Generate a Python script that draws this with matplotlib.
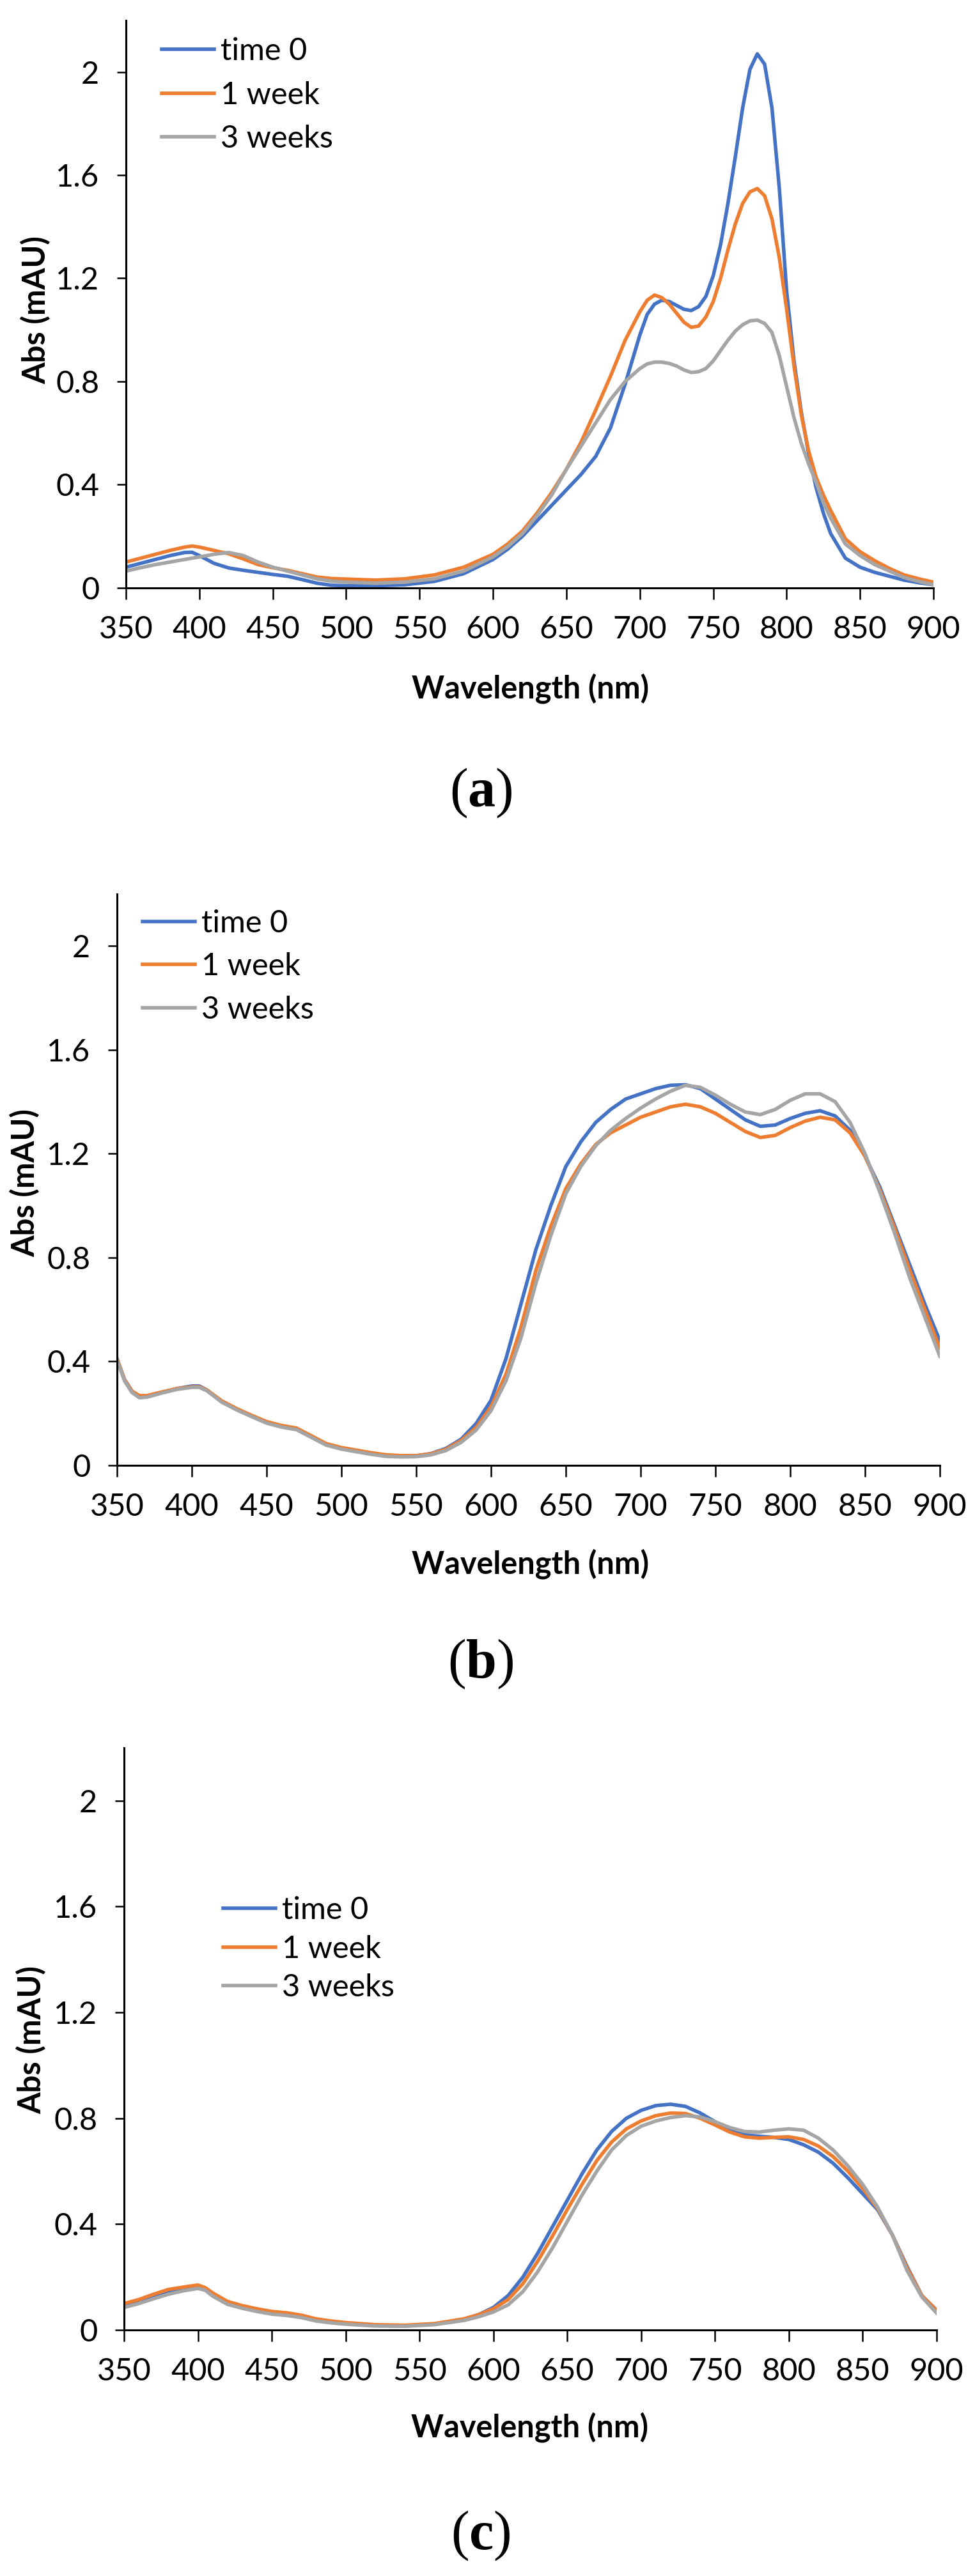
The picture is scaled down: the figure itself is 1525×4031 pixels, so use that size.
import matplotlib
matplotlib.use("Agg")
import matplotlib.pyplot as plt

plt.rcParams['font.family'] = ['Liberation Sans Narrow', 'Lato', 'DejaVu Sans']
plt.rcParams['mathtext.fontset'] = 'custom'
plt.rcParams['mathtext.rm'] = 'Liberation Serif'
plt.rcParams['mathtext.bf'] = 'Liberation Serif:bold'

labels = ['time 0', '1 week', '3 weeks']
colors = ['#4472C4', '#ED7D31', '#A5A5A5']

# panel (a)
wl_a = [350, 360, 370, 380, 390, 395, 400, 410, 420, 430, 440, 450, 460, 470, 480, 490, 500,
        520, 540, 560, 580, 600, 610, 620, 630, 640, 650, 660, 670, 680, 690, 700, 705, 710,
        715, 720, 725, 730, 735, 740, 745, 750, 755, 760, 765, 770, 775, 780, 785, 790, 795,
        800, 805, 810, 815, 820, 825, 830, 840, 850, 860, 870, 880, 890, 900]
a_t0 = [0.08, 0.095, 0.11, 0.125, 0.137, 0.138, 0.125, 0.095, 0.077, 0.068, 0.06, 0.052, 0.045,
        0.032, 0.018, 0.01, 0.008, 0.008, 0.012, 0.025, 0.055, 0.11, 0.15, 0.2, 0.26, 0.32, 0.38,
        0.44, 0.51, 0.62, 0.79, 0.98, 1.06, 1.1, 1.115, 1.11, 1.095, 1.08, 1.075, 1.09, 1.13, 1.21,
        1.33, 1.49, 1.67, 1.86, 2.01, 2.07, 2.03, 1.86, 1.55, 1.15, 0.88, 0.68, 0.52, 0.39, 0.29,
        0.21, 0.115, 0.08, 0.06, 0.045, 0.03, 0.02, 0.012]
a_w1 = [0.1, 0.115, 0.13, 0.145, 0.158, 0.162, 0.158, 0.145, 0.132, 0.112, 0.09, 0.078, 0.068,
        0.055, 0.042, 0.036, 0.034, 0.03, 0.035, 0.05, 0.08, 0.13, 0.17, 0.22, 0.29, 0.37, 0.46,
        0.565, 0.69, 0.82, 0.96, 1.07, 1.115, 1.135, 1.125, 1.1, 1.065, 1.03, 1.01, 1.015, 1.05,
        1.11, 1.2, 1.31, 1.41, 1.49, 1.535, 1.548, 1.52, 1.43, 1.28, 1.08, 0.86, 0.67, 0.53,
        0.43, 0.36, 0.3, 0.19, 0.14, 0.105, 0.075, 0.05, 0.035, 0.022]
a_w3 = [0.065, 0.078, 0.09, 0.1, 0.11, 0.115, 0.12, 0.13, 0.137, 0.125, 0.1, 0.08, 0.065, 0.05,
        0.035, 0.026, 0.022, 0.018, 0.022, 0.035, 0.065, 0.12, 0.16, 0.21, 0.28, 0.36, 0.46, 0.55,
        0.64, 0.73, 0.8, 0.85, 0.868, 0.875, 0.875, 0.87, 0.86, 0.845, 0.835, 0.838, 0.85, 0.88,
        0.92, 0.96, 0.995, 1.02, 1.035, 1.038, 1.025, 0.99, 0.9, 0.78, 0.66, 0.56, 0.48, 0.41,
        0.33, 0.27, 0.17, 0.125, 0.09, 0.065, 0.04, 0.025, 0.012]

# panel (b)
wl_b = [350, 355, 360, 365, 370, 380, 390, 400, 405, 410, 420, 430, 440, 450, 460, 470, 480, 490,
        500, 510, 520, 530, 540, 550, 560, 570, 580, 590, 600, 610, 620, 630, 640, 650, 660, 670,
        680, 690, 700, 710, 720, 730, 740, 750, 760, 770, 780, 790, 800, 810, 820, 830, 840, 850,
        860, 870, 880, 890, 900]
b_t0 = [0.41, 0.33, 0.285, 0.265, 0.265, 0.28, 0.295, 0.305, 0.305, 0.29, 0.245, 0.215, 0.19,
        0.165, 0.15, 0.14, 0.11, 0.08, 0.065, 0.055, 0.045, 0.037, 0.035, 0.036, 0.045, 0.065,
        0.1, 0.16, 0.25, 0.41, 0.62, 0.83, 1.0, 1.15, 1.245, 1.32, 1.37, 1.41, 1.43, 1.45, 1.463,
        1.465, 1.45, 1.41, 1.37, 1.33, 1.305, 1.31, 1.335, 1.355, 1.365, 1.345, 1.29, 1.19, 1.07,
        0.92, 0.77, 0.62, 0.48]
b_w1 = [0.41, 0.33, 0.285, 0.268, 0.268, 0.282, 0.295, 0.302, 0.302, 0.29, 0.248, 0.218, 0.192,
        0.168, 0.153, 0.143, 0.113, 0.083, 0.068, 0.058, 0.048, 0.04, 0.037, 0.037, 0.044, 0.062,
        0.095, 0.145, 0.225, 0.35, 0.53, 0.75, 0.92, 1.065, 1.16, 1.235, 1.28, 1.31, 1.34, 1.36,
        1.38, 1.39, 1.38, 1.355, 1.32, 1.285, 1.262, 1.27, 1.3, 1.325, 1.34, 1.33, 1.28, 1.19,
        1.06, 0.91, 0.75, 0.6, 0.45]
b_w3 = [0.405, 0.325, 0.28, 0.26, 0.262, 0.278, 0.292, 0.3, 0.3, 0.287, 0.243, 0.213, 0.187,
        0.162, 0.147, 0.137, 0.107, 0.077, 0.062, 0.052, 0.042, 0.034, 0.032, 0.033, 0.04, 0.057,
        0.088, 0.135, 0.21, 0.325, 0.49, 0.7, 0.885, 1.045, 1.15, 1.23, 1.29, 1.335, 1.375, 1.41,
        1.44, 1.463, 1.455, 1.425, 1.39, 1.36, 1.35, 1.37, 1.405, 1.43, 1.43, 1.4, 1.32, 1.2,
        1.05, 0.89, 0.72, 0.57, 0.42]

# panel (c)
wl_c = [350, 360, 370, 380, 390, 400, 405, 410, 420, 430, 440, 450, 460, 470, 480, 490, 500, 520,
        540, 560, 580, 590, 600, 610, 620, 630, 640, 650, 660, 670, 680, 690, 700, 710, 720, 730,
        740, 750, 760, 770, 780, 790, 800, 810, 820, 830, 840, 850, 860, 870, 880, 890, 900]
c_t0 = [0.096, 0.11, 0.128, 0.145, 0.155, 0.165, 0.155, 0.13, 0.1, 0.085, 0.072, 0.063, 0.058,
        0.05, 0.037, 0.03, 0.025, 0.017, 0.016, 0.022, 0.04, 0.058, 0.085, 0.13, 0.2, 0.29, 0.39,
        0.49, 0.59, 0.68, 0.75, 0.8, 0.83, 0.848, 0.853, 0.845, 0.82, 0.787, 0.755, 0.738, 0.732,
        0.728, 0.72, 0.7, 0.672, 0.63, 0.575, 0.515, 0.455, 0.36, 0.24, 0.13, 0.075]
c_w1 = [0.1, 0.115, 0.135, 0.153, 0.162, 0.17, 0.16, 0.14, 0.108, 0.092, 0.08, 0.07, 0.065,
        0.056, 0.042, 0.034, 0.028, 0.02, 0.018, 0.024, 0.042, 0.058, 0.08, 0.115, 0.175, 0.26,
        0.355, 0.455, 0.55, 0.64, 0.71, 0.76, 0.79, 0.81, 0.82, 0.818, 0.8, 0.775, 0.748, 0.73,
        0.725, 0.728, 0.73, 0.72, 0.695, 0.655, 0.6, 0.535, 0.46, 0.36, 0.235, 0.13, 0.074]
c_w3 = [0.085, 0.1, 0.118, 0.135, 0.148, 0.157, 0.15, 0.128, 0.097, 0.082, 0.07, 0.06, 0.055,
        0.047, 0.034, 0.027, 0.022, 0.015, 0.014, 0.02, 0.036, 0.05, 0.068, 0.095, 0.145, 0.22,
        0.31, 0.41, 0.51, 0.6, 0.68, 0.735, 0.77, 0.79, 0.803, 0.81, 0.805, 0.787, 0.765, 0.75,
        0.748, 0.755, 0.76, 0.755, 0.725, 0.68, 0.62, 0.55, 0.465, 0.36, 0.225, 0.125, 0.064]

x_ticks = [350, 400, 450, 500, 550, 600, 650, 700, 750, 800, 850, 900]
y_ticks = [0, 0.4, 0.8, 1.2, 1.6, 2]
y_ticklabels = ['0', '0.4', '0.8', '1.2', '1.6', '2']

fig = plt.figure(figsize=(15.25, 40.31), dpi=100)

panels = [
    # rect, x, series, legend anchor, label spacing, ylabel pos, xlabel pos, letter, caption y
    ([0.1292, 0.7718, 0.8282, 0.2203], wl_a, [a_t0, a_w1, a_w3], (0.0443, 0.97), 0.5,
     (-0.112, 0.49), (0.501, -0.177), 'a', 0.6919),
    ([0.1200, 0.4312, 0.8439, 0.2218], wl_b, [b_t0, b_w1, b_w3], (0.0311, 0.973), 0.48,
     (-0.112, 0.494), (0.502, -0.173), 'b', 0.354),
    ([0.1272, 0.0955, 0.8334, 0.2260], wl_c, [c_t0, c_w1, c_w3], (0.122, 0.745), 0.34,
     (-0.114, 0.498), (0.499, -0.167), 'c', 0.0156),
]

for rect, wl, series, leg_xy, lspace, ylab_xy, xlab_xy, letter, cap_y in panels:
    ax = fig.add_axes(rect)
    for vals, lab, col in zip(series, labels, colors):
        ax.plot(wl, vals, color=col, lw=4, label=lab, solid_joinstyle='round')
    ax.set_xlim(350, 900)
    ax.set_ylim(0, 2.2)
    ax.set_xticks(x_ticks)
    ax.set_yticks(y_ticks)
    ax.set_yticklabels(y_ticklabels)
    ax.spines['top'].set_visible(False)
    ax.spines['right'].set_visible(False)
    ax.spines['left'].set_linewidth(2.2)
    ax.spines['bottom'].set_linewidth(2.2)
    ax.tick_params(axis='x', direction='out', length=13, width=1.8, pad=18, labelsize=35)
    ax.tick_params(axis='y', direction='out', length=10, width=1.8, pad=20, labelsize=35)
    ax.set_xlabel('Wavelength (nm)', fontsize=35, fontweight='bold', va='center')
    ax.xaxis.set_label_coords(*xlab_xy)
    ax.set_ylabel('Abs (mAU)', fontsize=35, fontweight='bold', va='center')
    ax.yaxis.set_label_coords(*ylab_xy)
    ax.legend(loc='upper left', bbox_to_anchor=leg_xy, frameon=False, fontsize=35,
              handlelength=1.69, handletextpad=0.2, labelspacing=lspace,
              borderpad=0, borderaxespad=0)
    fig.text(0.493, cap_y, '($\\mathbf{' + letter + '}$)', family='Liberation Serif',
             fontsize=62, ha='center', va='center')

fig.savefig('out.png', dpi=100)
